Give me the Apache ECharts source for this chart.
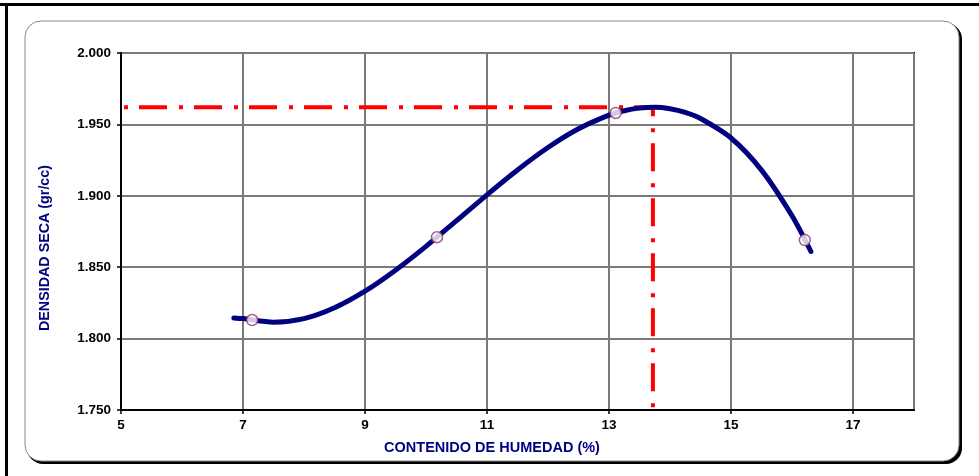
<!DOCTYPE html>
<html>
<head>
<meta charset="utf-8">
<script src="https://cdn.jsdelivr.net/npm/echarts@6/dist/echarts.min.js"></script>
<style>
html,body{margin:0;padding:0;background:#fff;}
#chart{width:979px;height:476px;}
</style>
</head>
<body>
<div id="chart"></div>
<script>
// Measured points (moisture %, dry density)
const pointX = [7.15, 10.18, 13.11, 16.21];
const pointY = [1.813, 1.871, 1.958, 1.869];
// Fitted compaction curve
const curveX = [6.85, 7.0, 7.5, 8.0, 8.5, 9.0, 9.5, 10.0, 10.5, 11.0, 11.5, 12.0, 12.5, 13.0, 13.25, 13.5, 13.75, 14.0, 14.25, 14.5, 15.0, 15.5, 16.0, 16.31];
const curveY = [1.8145, 1.8140, 1.8115, 1.8140, 1.8216, 1.8332, 1.8479, 1.8646, 1.8826, 1.9007, 1.9181, 1.9338, 1.9469, 1.9565, 1.9596, 1.9614, 1.9620, 1.9610, 1.9584, 1.9541, 1.9405, 1.9180, 1.8860, 1.8610];
// Optimum guide line (max dry density / optimum moisture)
const guideX = [5, 13.72, 13.72];
const guideY = [1.962, 1.962, 1.75];
const xTicks = [5, 7, 9, 11, 13, 15, 17];
const yTicks = [1.75, 1.8, 1.85, 1.9, 1.95, 2.0];
const xName = 'CONTENIDO DE HUMEDAD (%)';
const yName = 'DENSIDAD SECA (gr/cc)';

const zip = (a, b) => a.map((v, i) => [v, b[i]]);
const chart = echarts.init(document.getElementById('chart'), null, {renderer: 'canvas'});
const font = '"Liberation Sans", Arial, sans-serif';
chart.setOption({
  animation: false,
  backgroundColor: '#fff',
  grid: {left: 121, top: 53, right: 65, bottom: 66, show: true, borderColor: '#000', borderWidth: 2, backgroundColor: 'transparent'},
  graphic: [
    {type: 'rect', z: -10, silent: true, shape: {x: 0, y: 3, width: 979, height: 3}, style: {fill: '#000'}},
    {type: 'rect', z: -10, silent: true, shape: {x: 5, y: 3, width: 3, height: 473}, style: {fill: '#000'}},
    {type: 'rect', z: -9, silent: true, shape: {x: 27, y: 23, width: 935, height: 441, r: 16}, style: {fill: '#000'}},
    {type: 'rect', z: -8, silent: true, shape: {x: 25, y: 21, width: 934, height: 440, r: 16}, style: {fill: '#fff', stroke: '#888', lineWidth: 1}},
    {type: 'text', z: 10, silent: true, x: 492, y: 448, style: {text: xName, fill: '#000080', font: 'bold 14.5px ' + font, align: 'center', verticalAlign: 'middle'}},
    {type: 'text', z: 10, silent: true, x: 45, y: 248, rotation: Math.PI / 2, style: {text: yName, fill: '#000080', font: 'bold 14.3px ' + font, align: 'center', verticalAlign: 'middle'}}
  ],
  xAxis: {
    type: 'value', min: xTicks[0], max: 18, interval: 2,
    axisLine: {show: true, lineStyle: {color: '#000', width: 2}},
    axisTick: {show: true, length: 4, lineStyle: {color: '#000', width: 1.5}},
    axisLabel: {show: true, margin: 8, showMaxLabel: false, color: '#000', fontFamily: font, fontWeight: 'bold', fontSize: 13.5},
    splitLine: {show: true, lineStyle: {color: '#7a7a7a', width: 2}}
  },
  yAxis: {
    type: 'value', min: yTicks[0], max: yTicks[yTicks.length - 1], interval: 0.05,
    axisLine: {show: true, lineStyle: {color: '#000', width: 2}},
    axisTick: {show: true, length: 4, lineStyle: {color: '#000', width: 1.5}},
    axisLabel: {show: true, margin: 10, color: '#000', fontFamily: font, fontWeight: 'bold', fontSize: 13.5, formatter: v => v.toFixed(3)},
    splitLine: {show: true, lineStyle: {color: '#7a7a7a', width: 2}}
  },
  series: [
    {type: 'line', data: zip(guideX, guideY), symbol: 'none', z: 3,
     lineStyle: {color: '#ff0000', width: 4, type: [4, 11, 28, 12], dashOffset: -3}},
    {type: 'line', data: zip(curveX, curveY), symbol: 'none', smooth: 0.3, z: 4,
     lineStyle: {color: '#000080', width: 5, cap: 'round'}},
    {type: 'scatter', data: zip(pointX, pointY), symbol: 'circle', symbolSize: 11, z: 5,
     itemStyle: {color: '#fff', borderColor: '#993366', borderWidth: 1.5}}
  ]
});
</script>
</body>
</html>
